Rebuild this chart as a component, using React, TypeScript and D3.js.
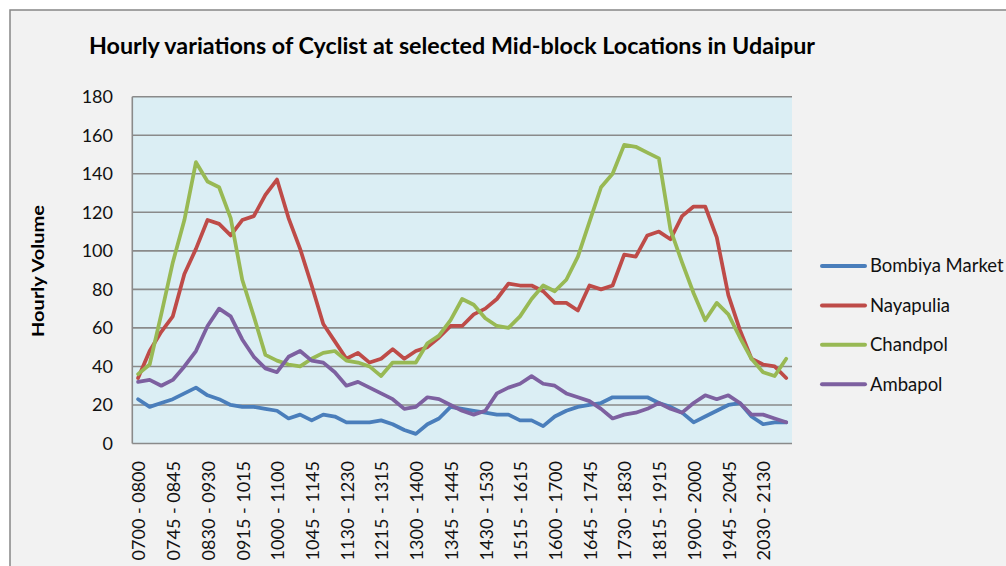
import React from 'react';
import * as d3 from 'd3';

const categories = [
  '0700 - 0800', '0715 - 0815', '0730 - 0830', '0745 - 0845', '0800 - 0900', '0815 - 0915',
  '0830 - 0930', '0845 - 0945', '0900 - 1000', '0915 - 1015', '0930 - 1030', '0945 - 1045',
  '1000 - 1100', '1015 - 1115', '1030 - 1130', '1045 - 1145', '1100 - 1200', '1115 - 1215',
  '1130 - 1230', '1145 - 1245', '1200 - 1300', '1215 - 1315', '1230 - 1330', '1245 - 1345',
  '1300 - 1400', '1315 - 1415', '1330 - 1430', '1345 - 1445', '1400 - 1500', '1415 - 1515',
  '1430 - 1530', '1445 - 1545', '1500 - 1600', '1515 - 1615', '1530 - 1630', '1545 - 1645',
  '1600 - 1700', '1615 - 1715', '1630 - 1730', '1645 - 1745', '1700 - 1800', '1715 - 1815',
  '1730 - 1830', '1745 - 1845', '1800 - 1900', '1815 - 1915', '1830 - 1930', '1845 - 1945',
  '1900 - 2000', '1915 - 2015', '1930 - 2030', '1945 - 2045', '2000 - 2100', '2015 - 2115',
  '2030 - 2130', '2045 - 2145', '2100 - 2200',
];

const bombiyaMarket = [
  23, 19, 21, 23, 26, 29, 25, 23, 20, 19, 19, 18, 17, 13, 15, 12, 15, 14, 11, 11,
  11, 12, 10, 7, 5, 10, 13, 19, 18, 17, 16, 15, 15, 12, 12, 9, 14, 17, 19, 20,
  21, 24, 24, 24, 24, 21, 19, 16, 11, 14, 17, 20, 21, 14, 10, 11, 11,
];
const nayapulia = [
  34, 48, 58, 66, 88, 101, 116, 114, 108, 116, 118, 129, 137, 117, 101, 82, 62, 53, 44, 47,
  42, 44, 49, 44, 48, 50, 55, 61, 61, 67, 70, 75, 83, 82, 82, 79, 73, 73, 69, 82,
  80, 82, 98, 97, 108, 110, 106, 118, 123, 123, 107, 77, 59, 44, 41, 40, 34,
];
const chandpol = [
  36, 41, 67, 94, 116, 146, 136, 133, 117, 85, 66, 46, 43, 41, 40, 44, 47, 48, 43, 42,
  40, 35, 42, 42, 42, 52, 56, 64, 75, 72, 65, 61, 60, 66, 75, 82, 79, 85, 97, 115,
  133, 140, 155, 154, 151, 148, 111, 94, 78, 64, 73, 67, 55, 44, 37, 35, 44,
];
const ambapol = [
  32, 33, 30, 33, 40, 48, 61, 70, 66, 54, 45, 39, 37, 45, 48, 43, 42, 37, 30, 32,
  29, 26, 23, 18, 19, 24, 23, 20, 17, 15, 17, 26, 29, 31, 35, 31, 30, 26, 24, 22,
  18, 13, 15, 16, 18, 21, 18, 16, 21, 25, 23, 25, 21, 15, 15, 13, 11,
];

const seriesNames = ['Bombiya Market', 'Nayapulia', 'Chandpol', 'Ambapol'];
const seriesValues = [bombiyaMarket, nayapulia, chandpol, ambapol];
const seriesColors = ['#4a7ebb', '#be4b48', '#98b954', '#7d60a0'];

const yTicks = [0, 20, 40, 60, 80, 100, 120, 140, 160, 180];

const title = 'Hourly variations of Cyclist at selected Mid-block Locations in Udaipur';

const W = 1006;
const H = 566;
const plot = { left: 132.3, top: 96.7, right: 792, bottom: 443.5 };
const font = 'Lato, Calibri, "Open Sans", sans-serif';

export default function App() {
  const x = d3.scaleBand<string>().domain(categories).range([plot.left, plot.right]).padding(0);
  const y = d3.scaleLinear().domain([0, 180]).range([plot.bottom, plot.top]);
  const cx = (c: string) => (x(c) ?? 0) + x.bandwidth() / 2;

  const line = d3
    .line<number>()
    .x((_, i) => cx(categories[i]))
    .y(d => y(d));

  return (
    <svg width={W} height={H} style={{ position: 'absolute', left: 0, top: 0, background: '#fff' }}>
      <rect x={10} y={10} width={W + 20} height={H + 20} fill="#f2f2f2" stroke="#878787" strokeWidth={1.5} />

      <text x={89} y={54} fontFamily={font} fontWeight="bold" fontSize={22} fill="#000"
        textLength={726} lengthAdjust="spacingAndGlyphs">
        {title}
      </text>

      <rect x={plot.left} y={plot.top} width={plot.right - plot.left} height={plot.bottom - plot.top} fill="#dbeef4" />

      {yTicks.map(t => (
        <g key={t}>
          <line x1={plot.left} x2={plot.right} y1={y(t)} y2={y(t)} stroke="#8a8a8a" strokeWidth={1.6} />
          <text x={113} y={y(t)} dy="0.35em" textAnchor="end" fontFamily={font} fontSize={18} fill="#111">
            {t}
          </text>
        </g>
      ))}
      <line x1={plot.left} x2={plot.left} y1={plot.top} y2={plot.bottom} stroke="#8a8a8a" strokeWidth={1.6} />

      {categories.map((c, i) =>
        i % 3 === 0 ? (
          <text key={c} transform={`translate(${cx(c) + 1},${461}) rotate(-90)`} dy="0.35em" textAnchor="end"
            fontFamily={font} fontSize={18} fill="#111">
            {c}
          </text>
        ) : null
      )}

      <text transform={`translate(38,271) rotate(-90)`} dy="0.35em" textAnchor="middle" fontFamily={font}
        fontWeight="bold" fontSize={17} fill="#000" textLength={132} lengthAdjust="spacingAndGlyphs">
        Hourly Volume
      </text>

      {seriesValues.map((vals, s) => (
        <path key={seriesNames[s]} d={line(vals) ?? ''} fill="none" stroke={seriesColors[s]} strokeWidth={3.75}
          strokeLinejoin="round" strokeLinecap="round" />
      ))}

      {seriesNames.map((n, s) => {
        const ly = 266 + s * 39.4;
        return (
          <g key={n}>
            <line x1={822} x2={865} y1={ly} y2={ly} stroke={seriesColors[s]} strokeWidth={4} strokeLinecap="round" />
            <text x={870} y={ly} dy="0.35em" fontFamily={font} fontSize={18.5} fill="#111">
              {n}
            </text>
          </g>
        );
      })}
    </svg>
  );
}
